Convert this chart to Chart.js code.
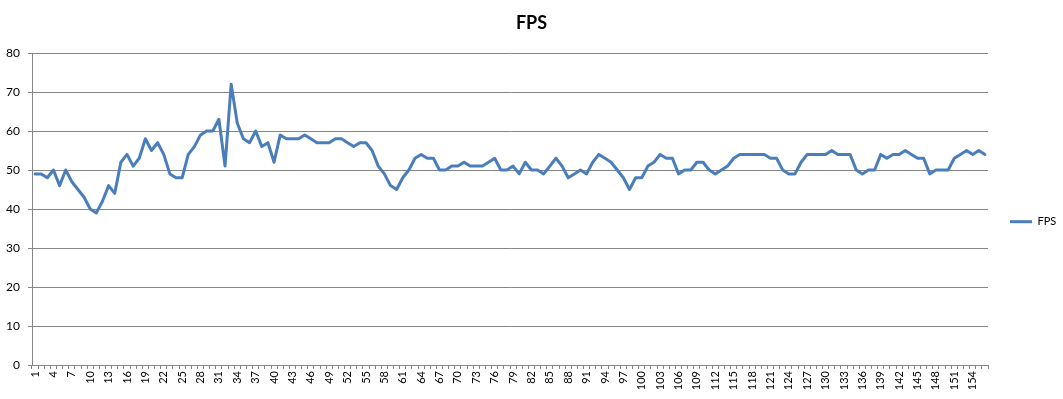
<!DOCTYPE html>
<html>
<head>
<meta charset="utf-8">
<script src="https://cdn.jsdelivr.net/npm/chart.js@4/dist/chart.umd.min.js"></script>
<style>
html,body{margin:0;padding:0;background:#fff;}
#wrap{width:1063px;height:399px;}
</style>
</head>
<body>
<div id="wrap"><canvas id="c" width="1063" height="399"></canvas></div>
<script>
const seriesName = "FPS";
const categories = [];
for (let i = 1; i <= 156; i++) categories.push(String(i));
const fpsValues = [
  49,49,48,50,46,50,47,45,43,40,
  39,42,46,44,52,54,51,53,58,55,
  57,54,49,48,48,54,56,59,60,60,
  63,51,72,62,58,57,60,56,57,52,
  59,58,58,58,59,58,57,57,57,58,
  58,57,56,57,57,55,51,49,46,45,
  48,50,53,54,53,53,50,50,51,51,
  52,51,51,51,52,53,50,50,51,49,
  52,50,50,49,51,53,51,48,49,50,
  49,52,54,53,52,50,48,45,48,48,
  51,52,54,53,53,49,50,50,52,52,
  50,49,50,51,53,54,54,54,54,54,
  53,53,50,49,49,52,54,54,54,54,
  55,54,54,54,50,49,50,50,54,53,
  54,54,55,54,53,53,49,50,50,50,
  53,54,55,54,55,54
];
const yTicks = [0,10,20,30,40,50,60,70,80];

const gridGray = '#868686';
const lineBlue = '#4a7ebb';
const fontFam = 'Lato, "Open Sans", "Liberation Sans", sans-serif';

new Chart(document.getElementById('c'), {
  type: 'line',
  data: {
    labels: categories,
    datasets: [{
      label: seriesName,
      data: fpsValues,
      borderColor: lineBlue,
      backgroundColor: lineBlue,
      borderWidth: 3,
      pointRadius: 0,
      tension: 0,
      borderJoinStyle: 'round',
      borderCapStyle: 'round'
    }]
  },
  options: {
    responsive: false,
    animation: false,
    layout: { padding: { left: 0, right: 0, top: 0, bottom: 0 } },
    plugins: {
      title: {
        display: true,
        text: seriesName,
        color: '#000',
        font: { family: fontFam, size: 18, weight: 'bold', lineHeight: 1.2 },
        padding: { top: 12, bottom: 19.4 }
      },
      legend: {
        position: 'right',
        align: 'center',
        maxWidth: 75,
        title: {
          display: true,
          text: ' ',
          font: { family: fontFam, size: 12, lineHeight: 1.2 },
          padding: 15
        },
        labels: {
          usePointStyle: true,
          pointStyle: 'line',
          pointStyleWidth: 22,
          boxHeight: 10,
          color: '#000',
          font: { family: fontFam, size: 11 },
          padding: 22
        }
      },
      tooltip: { enabled: false }
    },
    scales: {
      x: {
        type: 'category',
        offset: true,
        afterFit: (s) => { s.height = 34; },
        grid: {
          offset: true,
          drawOnChartArea: false,
          drawTicks: true,
          tickLength: 4,
          color: gridGray
        },
        border: { display: true, color: gridGray, width: 1 },
        ticks: {
          autoSkip: false,
          minRotation: 90,
          maxRotation: 90,
          padding: 2,
          color: '#000',
          font: { family: fontFam, size: 11 },
          callback: function(v, i) { return (i % 3 === 0) ? categories[i] : ''; }
        }
      },
      y: {
        min: 0,
        max: 80,
        afterFit: (s) => { s.width = 32; },
        afterBuildTicks: (s) => { s.ticks = yTicks.map(v => ({ value: v })); },
        grid: {
          color: gridGray,
          drawTicks: true,
          tickLength: 4
        },
        border: { display: true, color: gridGray, width: 1 },
        ticks: {
          padding: 8,
          color: '#000',
          font: { family: fontFam, size: 12 }
        }
      }
    }
  }
});
</script>
</body>
</html>
